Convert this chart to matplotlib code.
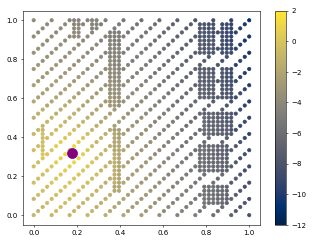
import matplotlib
matplotlib.use("Agg")
import matplotlib.pyplot as plt

# sample map on a 49 x 49 lattice (step 1/48), top row is y = 1.0
# each char is the colour level k of a sample: value = 2 - 0.5 * k, '.' = no sample
levels = "0123456789abcdefghijklmnopqrs"
rows = [
    "c... c... ddd. ddd. e... f... g... h... i... k... l... n... q",
    "...c ...c .ddd .dde ...e ...f ...g ...i ...j .kkl l.mm n..p .",
    "..c. ..c. .cc. .dd. ..e. ..f. ..g. ..h. ..j. .kkl l.mm n.o. .",
    ".c.. .c.. .cc. .d.. .eee .f.. .f.. .h.. .i.. .kkk lllm nn.. .",
    "c... c... ccc. c... deee e... f... g... i... jkkk l.lm n... p",
    "...c ...c ...c ...d .dee ...f ...g ...h ...j .jkk k.lm n..p .",
    "..b. ..b. ..c. ..c. .dde ..e. ..f. ..h. ..i. .jkk k.lm m.o. .",
    ".b.. .b.. .b.. .c.. .ddd .e.. .f.. .g.. .i.. .jkk kllm mn.. .",
    "b... b... b... c... dddd e... e... g... h... jjjk k.ll m... p",
    "...b ...b ...b ...c .ddd ...e ...f ...h ...i ...k ...l ...o .",
    "..b. ..b. ..b. ..c. .cdd ..e. ..f. ..g. ..i. ..j. ..l. ..n. .",
    ".a.. .a.. .b.. .b.. .cdd .d.. .e.. .g.. .h.. .j.. .k.. .n.. .",
    "a... a... a... b... cccd d... e... f... h... ijjj k.kl m... o",
    "...a ...a ...a ...b .ccc ...d ...f ...g ...i .ijj k.kl m..o .",
    "..a. ..a. ..a. ..b. .ccc ..d. ..e. ..g. ..h. .ijj j.kl m.n. .",
    ".a.. .9.. .a.. .a.. .bcc .c.. .d.. .f.. .h.. .ijj jkkl lm.. .",
    "9... 9... 9... a... bbbc c... d... f... g... iiij j.kl l... o",
    "...9 ...9 ...9 ...a .bbb ...c ...e ...g ...h .iij j.kk l..n .",
    "..9. ..9. ..9. ..a. .bbb ..c. ..d. ..f. ..h. .iij j.kk l.m. .",
    ".9.. .8.. .8.. .9.. .abb .b.. .d.. .e.. .g.. .iii jjkk lm.. .",
    "8... 8... 8... 8... aaab b... c... e... g... h... j... l... o",
    "...8 ...7 ...8 ...9 .aab ...c ...d ...f ...h ...i ...k ...n .",
    "..7. ..7. ..7. ..8. ..a. ..b. ..d. ..e. ..g. ..i. ..j. ..m. .",
    ".7.. .7.. .7.. .8.. .9.. .b.. .c.. .e.. .g.. .hii ijjk kl.. .",
    "7... 6... 6... 7... 8... a... b... d... f... h.hi ijjk k... n",
    "...6 ...6 ...6 ...8 ...9 ...b ...d ...e ...g ..hi iijk k..m .",
    "..6. ..5. ..6. ..7. ..9. ..a. ..c. ..e. ..g. ..hi iijj k.m. .",
    ".66. .5.. .5.. .6.. .899 .a.. .b.. .d.. .f.. .hhh iijj kl.. .",
    "6.5. 5... 4... 5... 7.89 9... b... d... e... g.hh iiij k... n",
    "..55 ...4 ...4 ...6 ..89 ...a ...c ...e ...g ...h ...j ...m .",
    "..5. ..3. ..3. ..6. ..88 ..a. ..b. ..d. ..f. ..h. ..i. ..l. .",
    ".55. .3.. .2.. .5.. .788 .9.. .b.. .d.. .f.. .ghh hiij .k.. .",
    "5.5. 4... 2... 4... 6.88 8... a... c... e... gggh hiij j... m",
    "..44 ...2 ...3 ...6 ..78 ...a ...c ...d ...f .ggh hiij ...l .",
    "..4. ..3. ..2. ..5. ..78 ..9. ..b. ..d. ..f. .ggh hhij ..l. .",
    ".5.. .3.. .2.. .4.. .778 .9.. .a.. .c.. .e.. .ggh hhii .k.. .",
    "5... 4... 3... 4... 6.78 8... a... c... e... fggg hhii j... m",
    "...4 ...3 ...4 ...6 ..78 ...9 ...b ...d ...f .ggg hhii ...l .",
    "..5. ..4. ..4. ..5. ..78 ..9. ..b. ..d. ..e. ..g. ..h. ..k. .",
    ".5.. .4.. .4.. .5.. .778 .9.. .a.. .c.. .e.. .f.. .h.. .j.. .",
    "5... 4... 4... 5... 7.78 8... a... b... d... f... g... j... l",
    "...5 ...4 ...5 ...6 ..88 ...9 ...b ...d ...e ..gg ghhi ...l .",
    "..5. ..5. ..5. ..6. ..88 ..9. ..a. ..c. ..e. ..gg ghhi ..k. .",
    ".5.. .5.. .5.. .6.. .7.. .9.. .a.. .c.. .d.. .ffg ghhi .j.. .",
    "6... 5... 5... 6... 7... 8... a... b... d... f.fg ghhi i... l",
    "...5 ...5 ...6 ...7 ...8 ...9 ...b ...d ...e ..fg gghi ...k .",
    "..6. ..5. ..6. ..7. ..8. ..9. ..a. ..c. ..e. ..f. ..h. ..k. .",
    ".6.. .5.. .6.. .6.. .8.. .9.. .a.. .c.. .d.. .f.. .g.. .j.. .",
    "6... 6... 6... 6... 7... 8... 9... b... d... e... g... i... l",
]

best_x = [0.18]
best_y = [0.32]

x = []
y = []
c = []
n = len(rows) - 1
for r, row in enumerate(rows):
    row = row.replace(" ", "")
    if len(row) != n + 1:
        raise ValueError("row %d has length %d" % (r, len(row)))
    for i, ch in enumerate(row):
        if ch == ".":
            continue
        x.append(i / n)
        y.append((n - r) / n)
        c.append(2 - 0.5 * levels.index(ch))

fig = plt.figure(figsize=(6.4, 4.8), dpi=51.1)
ax = fig.add_axes([0.070, 0.082, 0.725, 0.874])
cax = fig.add_axes([0.841, 0.082, 0.034, 0.874])

sc = ax.scatter(x, y, c=c, cmap="cividis", vmin=-12, vmax=2, s=22)
ax.scatter(best_x, best_y, color="purple", s=200)
ax.set_xlim(-0.05, 1.05)
ax.set_ylim(-0.05, 1.05)

fig.colorbar(sc, cax=cax)

fig.savefig("out.png", dpi=51.1)
